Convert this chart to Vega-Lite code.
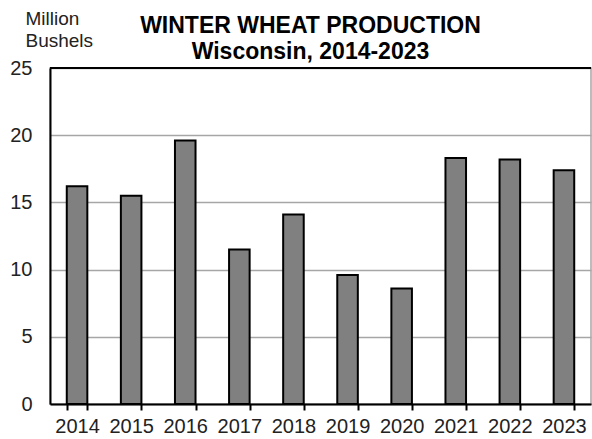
{
  "$schema": "https://vega.github.io/schema/vega-lite/v6.json",
  "autosize": "none",
  "width": 541,
  "height": 336,
  "padding": {"left": 50, "top": 68, "right": 1, "bottom": 35},
  "background": "white",
  "config": {
    "font": "Liberation Sans",
    "view": {"stroke": "#a6a6a6", "strokeWidth": 1.5}
  },
  "title": {
    "text": ["WINTER WHEAT PRODUCTION", "Wisconsin, 2014-2023"],
    "fontSize": 23,
    "fontWeight": "bold",
    "font": "Liberation Sans",
    "color": "#000000",
    "anchor": "middle",
    "frame": "group",
    "baseline": "alphabetic",
    "dx": -10,
    "dy": 73,
    "lineHeight": 26,
    "offset": 0
  },
  "data": {
    "values": [
      {"year": "2014", "production": 16.2},
      {"year": "2015", "production": 15.5},
      {"year": "2016", "production": 19.6},
      {"year": "2017", "production": 11.5},
      {"year": "2018", "production": 14.1},
      {"year": "2019", "production": 9.6},
      {"year": "2020", "production": 8.6},
      {"year": "2021", "production": 18.3},
      {"year": "2022", "production": 18.2},
      {"year": "2023", "production": 17.4}
    ]
  },
  "layer": [
    {
      "mark": {"type": "bar", "fill": "#808080", "stroke": "#000000", "strokeWidth": 2},
      "encoding": {
        "x": {
          "field": "year",
          "type": "ordinal",
          "scale": {"paddingInner": 0.62, "paddingOuter": 0.31},
          "axis": {
            "title": null,
            "labelAngle": 0,
            "labelFontSize": 20,
            "labelColor": "#222222",
            "labelPadding": 6,
            "domainColor": "#000000",
            "domainWidth": 2,
            "tickColor": "#000000",
            "tickWidth": 2,
            "tickSize": 6,
            "tickBand": "extent",
            "grid": false
          }
        },
        "y": {
          "field": "production",
          "type": "quantitative",
          "scale": {"domain": [0, 25], "nice": false},
          "axis": {
            "values": [0, 5, 10, 15, 20, 25],
            "title": ["Million", "Bushels"],
            "titleAngle": 0,
            "titleAlign": "left",
            "titleBaseline": "alphabetic",
            "titleFontSize": 19,
            "titleFontWeight": "normal",
            "titleColor": "#222222",
            "titleLineHeight": 22,
            "titleX": -25,
            "titleY": -44,
            "labelFontSize": 20,
            "labelColor": "#222222",
            "labelPadding": 18,
            "ticks": false,
            "domainColor": "#000000",
            "domainWidth": 2,
            "grid": true,
            "gridColor": "#a6a6a6",
            "gridWidth": 1.7
          }
        }
      }
    },
    {
      "mark": {"type": "rule", "color": "#000000", "strokeWidth": 2},
      "encoding": {"y": {"datum": 25, "type": "quantitative"}}
    }
  ]
}
